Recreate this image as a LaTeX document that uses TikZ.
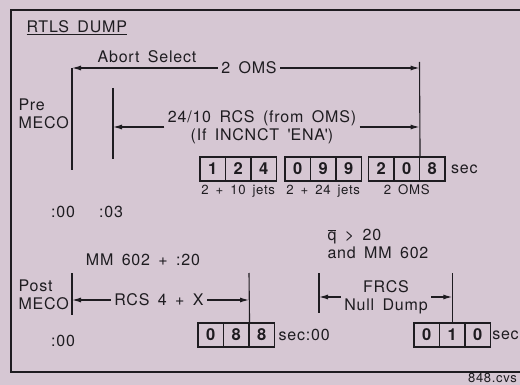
\documentclass[tikz,border=0pt]{standalone}
\usepackage{fontspec}
\setmainfont{TeX Gyre Heros}[LetterSpace=5,WordSpace=1.6]
\usetikzlibrary{positioning, arrows.meta, calc}
\definecolor{paper}{RGB}{214,199,211}
\definecolor{ink}{RGB}{30,28,32}

\begin{document}
\begin{tikzpicture}[
    x=1pt, y=-1pt,
    font=\fontsize{16}{18}\selectfont, text=ink,
    wire/.style={draw=ink, line width=1.1pt},
    pointer/.style={wire, -{Latex[length=9pt, width=5pt]}},
    digit/.style={draw=ink, line width=1.1pt, rectangle, minimum width=25.5pt, minimum height=24pt, inner sep=0pt, font=\fontsize{16.5}{18}\selectfont\bfseries},
    small/.style={font=\fontsize{13.2}{16}\selectfont}
]
    \fill[paper] (0,0) rectangle (520,385);
    \useasboundingbox (0,0) rectangle (520,385);

    % --- Frame and title ---
    \draw[wire] (530,10) -- (11,10) -- (11,372) -- (530,372);
    \node[anchor=west] (title) at (23,28) {\underline{RTLS DUMP}};
    \node[anchor=east, inner sep=1pt, font=\fontsize{13}{16}\selectfont] (fig) at (518,377.5) {848.cvs};

    % --- Pre MECO ---
    \node[anchor=west, align=left] (pre) at (15,114) {Pre\\MECO};
    \coordinate (preTop) at (72,68);
    \coordinate (preBot) at (72,170);
    \coordinate (rcsTop) at (113,88);
    \coordinate (rcsBot) at (113,159);
    \coordinate (omsTop) at (419.5,62);

    \node (abort) at (147,57) {Abort Select};
    \node (oms) at (249,68) {2 OMS};
    \node[align=center] (rcs) at (262,127) {24/10 RCS (from OMS)\\(If INCNCT \textquotesingle ENA\textquotesingle)};

    % digit boxes
    \node[digit] (r1c1) at (212.75,169) {1};
    \node[digit] (r1c2) at (238.25,169) {2};
    \node[digit] (r1c3) at (263.75,169) {4};
    \node[digit] (r1c4) at (297.75,169) {0};
    \node[digit] (r1c5) at (323.25,169) {9};
    \node[digit] (r1c6) at (348.75,169) {9};
    \node[digit] (r1c7) at (381.25,169) {2};
    \node[digit] (r1c8) at (406.75,169) {0};
    \node[digit] (r1c9) at (432.25,169) {8};
    \node[right=2pt of r1c9] (sec1) {sec};
    \node[small, below=0pt of r1c2] {2 + 10 jets};
    \node[small, below=0pt of r1c5] {2 + 24 jets};
    \node[small, below=0pt of r1c8] {2 OMS};

    \node (t00) at (63,212) {:00};
    \node (t03) at (111,212) {:03};

    \draw[wire] (preTop) -- (preBot);
    \draw[wire] (rcsTop) -- (rcsBot);
    \draw[wire] (omsTop) -- (r1c8.north east);
    \draw[pointer] (oms.west) -- (oms.west -| preTop);
    \draw[pointer] (oms.east) -- (oms.east -| omsTop);
    \draw[pointer] (rcs.west) -- (rcs.west -| rcsTop);
    \draw[pointer] (rcs.east) -- (rcs.east -| omsTop);

    % --- Post MECO ---
    \node (mm) at (143,260) {MM 602 + :20};
    \node[anchor=west, align=left] (post) at (15,295) {Post\\MECO};
    \node[anchor=west, align=left] (qbar) at (324,244) {$\overline{\mbox{q}}$ > 20\\and MM 602};
    \node (rcsx) at (159,300) {RCS 4 + X};
    \node[align=center] (frcs) at (386,297) {FRCS\\Null Dump};
    \node (b00) at (63,341) {:00};

    \node[digit] (r2c1) at (210.75,335) {0};
    \node[digit] (r2c2) at (236.25,335) {8};
    \node[digit] (r2c3) at (261.75,335) {8};
    \node[right=0pt of r2c3] (sec2) {sec:00};
    \node[digit] (r2c4) at (426.75,335) {0};
    \node[digit] (r2c5) at (452.25,335) {1};
    \node[digit] (r2c6) at (477.75,335) {0};
    \node[right=0pt of r2c6, inner sep=1pt] (sec3) {sec};

    \coordinate (postTop) at (72,273);
    \coordinate (postBot) at (72,315);
    \coordinate (xTop) at (249,273);
    \coordinate (fTop) at (319,273);
    \coordinate (fBot) at (319,313);
    \coordinate (gTop) at (452.25,273);

    \draw[wire] (postTop) -- (postBot);
    \draw[wire] (xTop) -- (r2c2.north east);
    \draw[wire] (fTop) -- (fBot);
    \draw[wire] (gTop) -- (r2c5.north);
    \draw[pointer] (rcsx.west) -- (rcsx.west -| postTop);
    \draw[pointer] (rcsx.east) -- (rcsx.east -| xTop);
    \draw[pointer] (frcs.west) -- (frcs.west -| fTop);
    \draw[pointer] (frcs.east) -- (frcs.east -| gTop);
\end{tikzpicture}
\end{document}
